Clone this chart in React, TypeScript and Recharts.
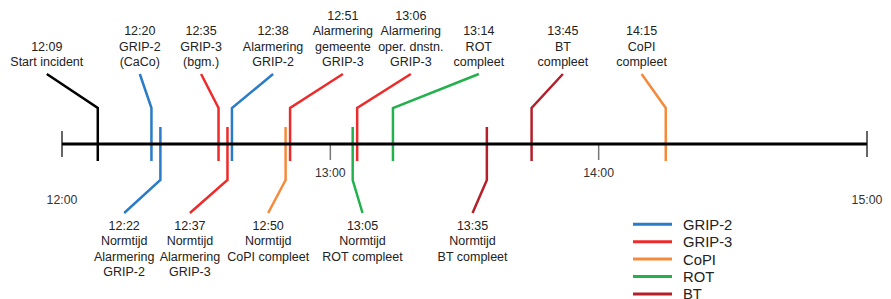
import React from "react";
import { ComposedChart, Line, XAxis, YAxis, ReferenceLine, LabelList } from "recharts";

// ---- data ----
const categories = ["GRIP-2", "GRIP-3", "CoPI", "ROT", "BT"];
const axisTickMinutes = [0, 60, 120, 180];
const axisTickLabels = ["12:00", "13:00", "14:00", "15:00"];

const eventTimes = ["12:09", "12:20", "12:22", "12:35", "12:37", "12:38", "12:50", "12:51", "13:05", "13:06", "13:14", "13:35", "13:45", "14:15"];
// position on the timeline, minutes after 12:00 (as drawn)
const eventMinutes = [8, 20, 22, 35, 37, 38, 50, 51, 65, 66, 74, 95, 105, 135];
const eventCaptions = [
  ["Start incident"],
  ["GRIP-2", "(CaCo)"],
  ["Normtijd", "Alarmering", "GRIP-2"],
  ["GRIP-3", "(bgm.)"],
  ["Normtijd", "Alarmering", "GRIP-3"],
  ["Alarmering", "GRIP-2"],
  ["Normtijd", "CoPI compleet"],
  ["Alarmering", "gemeente", "GRIP-3"],
  ["Normtijd", "ROT compleet"],
  ["Alarmering", "oper. dnstn.", "GRIP-3"],
  ["ROT", "compleet"],
  ["Normtijd", "BT compleet"],
  ["BT", "compleet"],
  ["CoPI", "compleet"],
];
const eventCategory = ["Start", "GRIP-2", "GRIP-2", "GRIP-3", "GRIP-3", "GRIP-2", "CoPI", "GRIP-3", "ROT", "GRIP-3", "ROT", "BT", "BT", "CoPI"];
const eventIsNorm = [false, false, true, false, true, false, true, false, true, false, false, true, false, false];

// ---- layout / style ----
const labelShift = [-11.4, -2.6, -8.1, -3.9, -8.4, 9.2, -3.9, 11.8, 2.2, 12, 19.2, -3.2, 7, -5.4];
const colors: Record<string, string> = {
  Start: "#000000",
  "GRIP-2": "#2a7bc8",
  "GRIP-3": "#ee2b2b",
  CoPI: "#f58a3a",
  ROT: "#22b14c",
  BT: "#b3202a",
};
const W = 891;
const H = 299;
const PX_PER_MIN = (867 - 62) / 180;
const X_DOMAIN = [-62 / PX_PER_MIN, 180 + (W - 867) / PX_PER_MIN];
const AXIS_Y = 144;
const TOP = { start: 161, bend: 108, end: 74 };
const BOT = { start: 127, bend: 180, end: 213 };
const FONT = "'Liberation Sans', Arial, sans-serif";
const TEXT = "#222";

const eventSeries = eventMinutes.map((m, i) => {
  const g = eventIsNorm[i] ? BOT : TOP;
  return [
    { x: m, y: g.start },
    { x: m, y: g.bend },
    { x: m + labelShift[i], y: g.end },
  ];
});

function makeLabel(i: number) {
  return (p: any) => {
    if (p.index !== 2) return null;
    const lines = [eventTimes[i], ...eventCaptions[i]];
    const n = lines.length;
    const lh = 15.4;
    return (
      <text x={p.x} textAnchor="middle" fontSize={12.5} fontFamily={FONT} fill={TEXT}>
        {lines.map((t, k) => {
          const y = eventIsNorm[i] ? p.y + 17 + k * lh : p.y - 8 - (n - 1 - k) * lh;
          return (
            <tspan key={k} x={p.x} y={y}>
              {t}
            </tspan>
          );
        })}
      </text>
    );
  };
}

function tickLabel(idx: number, isEnd: boolean) {
  return (p: any) => {
    const vb = p.viewBox || {};
    return (
      <text x={vb.x} y={isEnd ? 203.5 : 177} textAnchor="middle" fontSize={12.3} fontFamily={FONT} fill="#333">
        {axisTickLabels[idx]}
      </text>
    );
  };
}

export default function App() {
  return (
    <div style={{ position: "absolute", left: 0, top: 0, width: W, height: H, background: "#fff" }}>
      <ComposedChart width={W} height={H} margin={{ top: 0, right: 0, bottom: 0, left: 0 }}>
        <XAxis type="number" dataKey="x" domain={X_DOMAIN} hide allowDataOverflow />
        <YAxis type="number" dataKey="y" domain={[0, H]} reversed hide allowDataOverflow />
        {eventSeries.map((d, i) => (
          <Line
            key={i}
            data={d}
            dataKey="y"
            type="linear"
            stroke={colors[eventCategory[i]]}
            strokeWidth={2.5}
            dot={false}
            activeDot={false}
            isAnimationActive={false}
            legendType="none"
          >
            <LabelList dataKey="y" content={makeLabel(i)} />
          </Line>
        ))}
        {axisTickMinutes.map((m, idx) => {
          const isEnd = idx === 0 || idx === axisTickMinutes.length - 1;
          return (
            <ReferenceLine
              key={"t" + m}
              segment={[
                { x: m, y: isEnd ? 131 : AXIS_Y },
                { x: m, y: isEnd ? 157 : 160 },
              ]}
              stroke={isEnd ? "#333" : "#777"}
              strokeWidth={1.5}
              label={tickLabel(idx, isEnd)}
            />
          );
        })}
        <ReferenceLine
          segment={[
            { x: axisTickMinutes[0], y: AXIS_Y },
            { x: axisTickMinutes[axisTickMinutes.length - 1], y: AXIS_Y },
          ]}
          stroke="#000"
          strokeWidth={3}
        />
      </ComposedChart>
      <svg width={W} height={H} style={{ position: "absolute", left: 0, top: 0, pointerEvents: "none" }}>
        {categories.map((c, i) => {
          const cy = 224.3 + i * 17.4;
          return (
            <g key={c}>
              <line x1={633} x2={672} y1={cy} y2={cy} stroke={colors[c]} strokeWidth={3} />
              <text x={683} y={cy + 5.4} fontSize={14.8} fontFamily={FONT} fill={TEXT}>
                {c}
              </text>
            </g>
          );
        })}
      </svg>
    </div>
  );
}
